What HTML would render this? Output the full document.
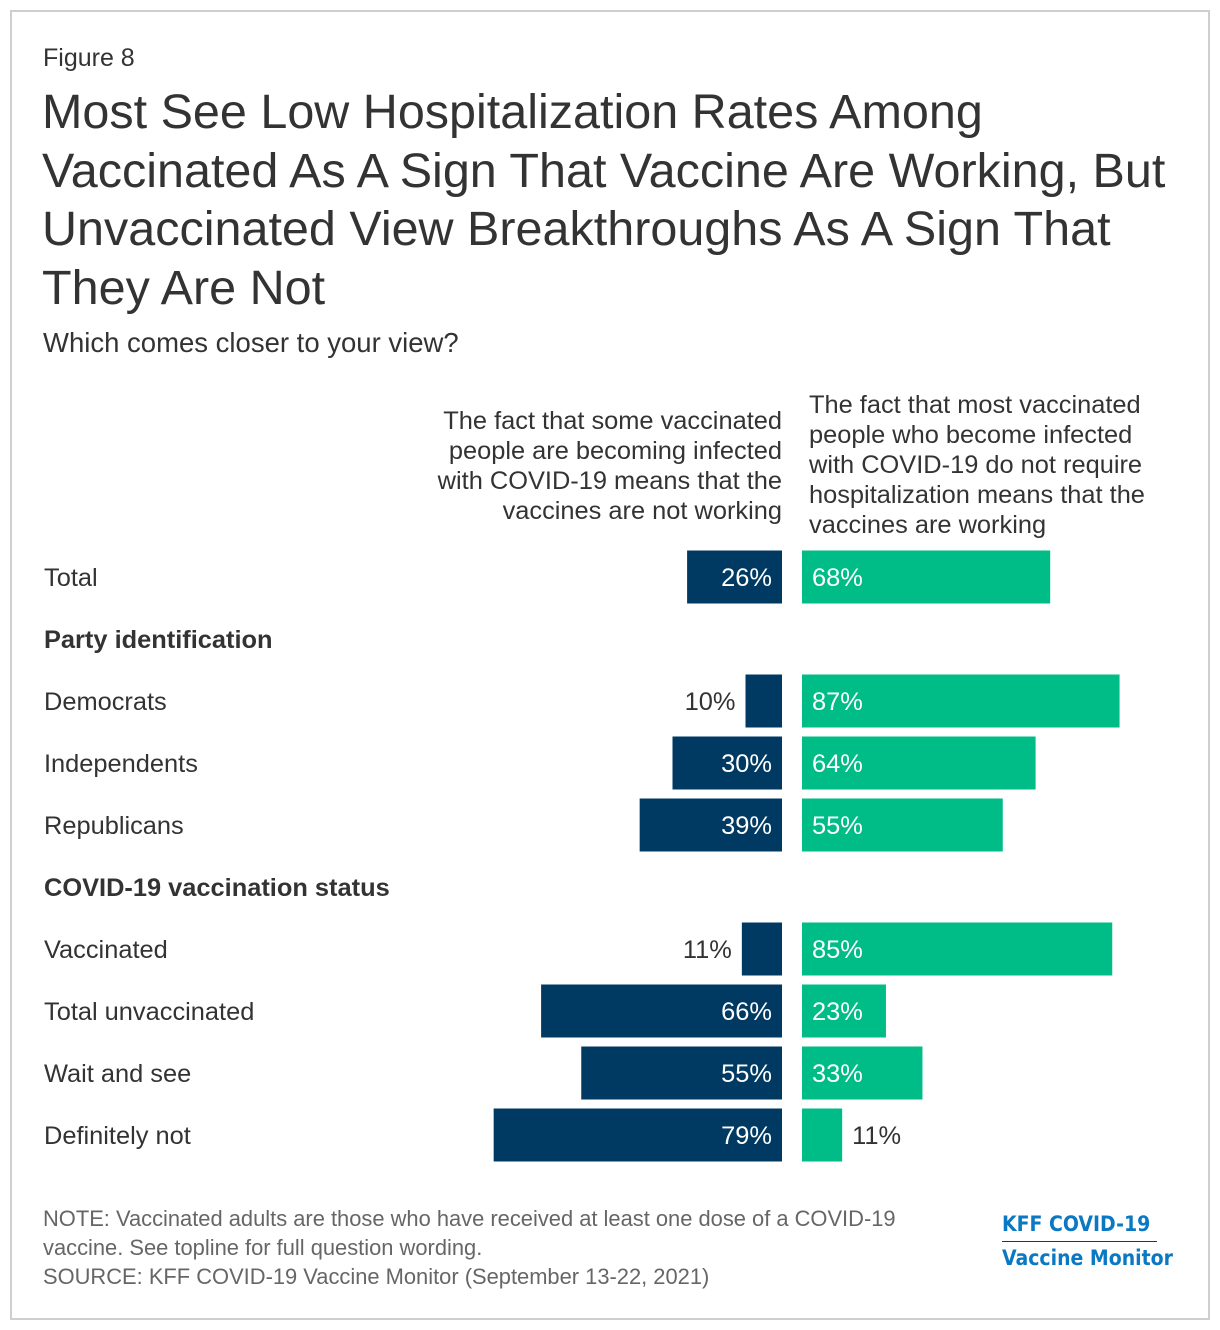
<!DOCTYPE html>
<html><head><meta charset="utf-8"><style>
body{margin:0;background:#fff;font-family:"Liberation Sans",sans-serif;}
#frame{position:absolute;left:10px;top:10px;width:1196px;height:1306px;border:2px solid #cfcfcf;}
.t{position:absolute;color:#333;}
</style></head><body>
<div id="frame"></div>
<div class="t" style="left:43px;top:44px;font-size:25px;">Figure 8</div>
<div class="t" style="left:42px;top:83px;font-size:48.5px;line-height:58.5px;width:1150px;">Most See Low Hospitalization Rates Among Vaccinated As A Sign That Vaccine Are Working, But Unvaccinated View Breakthroughs As A Sign That They Are Not</div>
<div class="t" style="left:43px;top:327px;font-size:27.5px;">Which comes closer to your view?</div>
<div class="t" style="right:438px;top:406px;font-size:25.4px;line-height:30px;text-align:right;white-space:nowrap;">The fact that some vaccinated<br>people are becoming infected<br>with COVID-19 means that the<br>vaccines are not working</div>
<div class="t" style="left:809px;top:390px;font-size:25.4px;line-height:30px;white-space:nowrap;">The fact that most vaccinated<br>people who become infected<br>with COVID-19 do not require<br>hospitalization means that the<br>vaccines are working</div>
<svg id="chart" width="1220" height="1330" style="position:absolute;left:0;top:0"></svg>
<div class="t" style="left:43px;top:1204px;font-size:21.9px;line-height:29px;color:#666;white-space:nowrap;">NOTE: Vaccinated adults are those who have received at least one dose of a COVID-19<br>vaccine. See topline for full question wording.<br>SOURCE: KFF COVID-19 Vaccine Monitor (September 13-22, 2021)</div>
<div style="position:absolute;left:1002px;top:1212px;color:#0a78c2;font-weight:bold;font-family:'DejaVu Sans Condensed','DejaVu Sans',sans-serif;font-size:21px;white-space:nowrap;">
<div style="border-bottom:1px solid #333;width:155px;padding-bottom:5px;">KFF COVID-19</div>
<div style="padding-top:4px;">Vaccine Monitor</div></div>
<script>
const categories=["Total","Democrats","Independents","Republicans","Vaccinated","Total unvaccinated","Wait and see","Definitely not"];
const notWorking=[26,10,30,39,11,66,55,79];
const working=[68,87,64,55,85,23,33,11];
const rowY=[577,701,763,825,949,1011,1073,1135];
const headers=[["Party identification",639],["COVID-19 vaccination status",887]];
const NS="http://www.w3.org/2000/svg";
const svg=document.getElementById('chart');
const px=3.65, mid=782, rStart=802, bh=53, fs=25.4;
function sx(v){return v*px;}
function mk(tag,attrs,txt){const e=document.createElementNS(NS,tag);for(const k in attrs)e.setAttribute(k,attrs[k]);if(txt!==undefined)e.textContent=txt;svg.appendChild(e);return e;}
headers.forEach(h=>{
 const e=mk('text',{x:44,y:h[1]+9,'font-size':fs,'font-weight':'bold',fill:'#333'},h[0]);
 
 
});
categories.forEach((c,i)=>{
 const y=rowY[i];
 const l=mk('text',{x:44,y:y+9,'font-size':fs,fill:'#333'},c);
 
 
 const w1=sx(notWorking[i]);
 const b1=mk('rect',{x:mid-w1,y:y-bh/2,width:w1,height:bh,fill:'#003a63'});
 
 
 const in1=w1>60;
 const t1=mk('text',{x:in1?mid-10:mid-w1-10,y:y+9,'font-size':fs,'text-anchor':'end',fill:in1?'#fff':'#333'},notWorking[i]+'%');
 
 
 const w2=sx(working[i]);
 const b2=mk('rect',{x:rStart,y:y-bh/2,width:w2,height:bh,fill:'#00bc87'});
 
 
 const in2=w2>60;
 const t2=mk('text',{x:in2?rStart+10:rStart+w2+10,y:y+9,'font-size':fs,fill:in2?'#fff':'#333'},working[i]+'%');
 
 
});
</script>
</body></html>
